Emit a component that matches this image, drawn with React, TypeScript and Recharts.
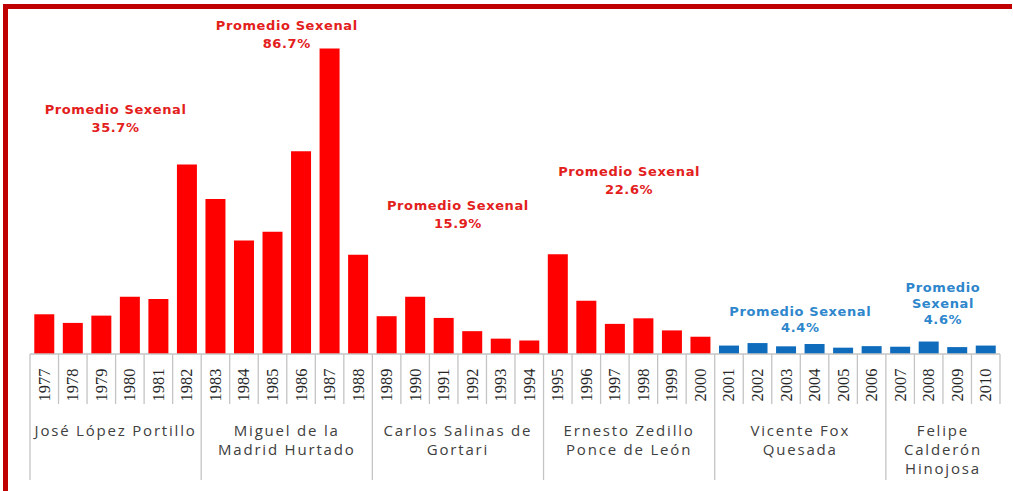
import { BarChart, Bar, XAxis, YAxis, Cell, ReferenceDot } from 'recharts';

const years = [
  '1977', '1978', '1979', '1980', '1981', '1982',
  '1983', '1984', '1985', '1986', '1987', '1988',
  '1989', '1990', '1991', '1992', '1993', '1994',
  '1995', '1996', '1997', '1998', '1999', '2000',
  '2001', '2002', '2003', '2004', '2005', '2006',
  '2007', '2008', '2009', '2010',
];

// inflación anual (%)
const inflation = [
  20.7, 16.2, 20.0, 29.8, 28.7, 98.8,
  80.8, 59.2, 63.7, 105.7, 159.2, 51.7,
  19.7, 29.9, 18.8, 11.9, 8.0, 7.1,
  52.0, 27.7, 15.7, 18.6, 12.3, 9.0,
  4.4, 5.7, 4.0, 5.2, 3.3, 4.1,
  3.8, 6.5, 3.6, 4.4,
];

const presidents = [
  ['José López Portillo'],
  ['Miguel de la', 'Madrid Hurtado'],
  ['Carlos Salinas de', 'Gortari'],
  ['Ernesto Zedillo', 'Ponce de León'],
  ['Vicente Fox', 'Quesada'],
  ['Felipe', 'Calderón', 'Hinojosa'],
];
const groupStarts = [0, 6, 12, 18, 24, 30];
const groupSizes = [6, 6, 6, 6, 6, 4];

const averages = [
  ['Promedio Sexenal', '35.7%'],
  ['Promedio Sexenal', '86.7%'],
  ['Promedio Sexenal', '15.9%'],
  ['Promedio Sexenal', '22.6%'],
  ['Promedio Sexenal', '4.4%'],
  ['Promedio', 'Sexenal', '4.6%'],
];
// where each note sits, in value units
const averageLabelY = [127, 171, 77, 95, 22, 34.5];

const W = 1005;
const H = 483;
const M = { top: 39, right: 13, left: 22, bottom: 0 };
const SLOT = (W - M.left - M.right) / years.length;

const RED = '#ff0000';
const BLUE = '#0f6cbd';
const GRID = '#c4c4c4';

const data = years.map((year, i) => ({ year, value: inflation[i] }));

const YearTick = (props: any) => {
  const { x, y, payload } = props;
  const i = payload.index;
  const g = groupStarts.indexOf(i);
  const left = x - SLOT / 2;
  const cx = left + (g >= 0 ? (groupSizes[g] * SLOT) / 2 : 0);
  return (
    <g>
      <line x1={left} x2={left} y1={y} y2={y + (g >= 0 ? 126 : 50)} stroke={GRID} strokeWidth={1.3} />
      {i === years.length - 1 && (
        <line x1={x + SLOT / 2} x2={x + SLOT / 2} y1={y} y2={y + 50} stroke={GRID} strokeWidth={1.3} />
      )}
      <text
        x={x}
        y={y + 31}
        transform={`rotate(-90 ${x} ${y + 31})`}
        textAnchor="middle"
        dominantBaseline="central"
        fontFamily="'Liberation Serif', serif"
        fontSize={16.5}
        fill="#262626"
      >
        {payload.value}
      </text>
      {g >= 0 && (
        <text
          x={cx}
          textAnchor="middle"
          fontFamily="'Open Sans', sans-serif"
          fontSize={15}
          letterSpacing={1.8}
          fill="#404040"
        >
          {presidents[g].map((line, k) => (
            <tspan key={k} x={cx} y={y + 82 + k * 19}>
              {line}
            </tspan>
          ))}
        </text>
      )}
    </g>
  );
};

const noteShape = (g: number) => (props: any) => {
  const { cx, cy } = props;
  const blue = g >= 4;
  const lh = blue ? 16 : 18;
  const x = cx - SLOT / 2;
  return (
    <text
      textAnchor="middle"
      fontFamily="'DejaVu Sans', sans-serif"
      fontWeight="bold"
      fontSize={13}
      letterSpacing={0.6}
      fill={blue ? '#2e86cc' : '#e3201c'}
    >
      {averages[g].map((line, k) => (
        <tspan key={k} x={x} y={cy + 4 + k * lh}>
          {line}
        </tspan>
      ))}
    </text>
  );
};

export default function App() {
  return (
    <div style={{ position: 'relative', width: 1013, height: 491 }}>
      <style>{'body{margin:0}'}</style>
      <div
        style={{
          position: 'absolute',
          left: 3,
          top: 4,
          width: 1004,
          height: 482,
          borderTop: '5px solid #c00000',
          borderLeft: '5px solid #c00000',
        }}
      />
      <div style={{ position: 'absolute', left: 8, top: 8 }}>
        <BarChart width={W} height={H} data={data} margin={M} barCategoryGap="15%">
          <XAxis
            dataKey="year"
            interval={0}
            height={137}
            tickSize={0}
            tickMargin={0}
            tickLine={false}
            axisLine={{ stroke: GRID, strokeWidth: 1.3 }}
            tick={<YearTick />}
          />
          <YAxis hide domain={[0, 160]} />
          <Bar dataKey="value" isAnimationActive={false}>
            {data.map((d, i) => (
              <Cell key={d.year} fill={i >= 24 ? BLUE : RED} />
            ))}
          </Bar>
          {groupStarts.map((s, g) => (
            <ReferenceDot
              key={g}
              x={years[s + groupSizes[g] / 2]}
              y={averageLabelY[g]}
              r={1}
              ifOverflow="visible"
              shape={noteShape(g)}
            />
          ))}
        </BarChart>
      </div>
    </div>
  );
}
